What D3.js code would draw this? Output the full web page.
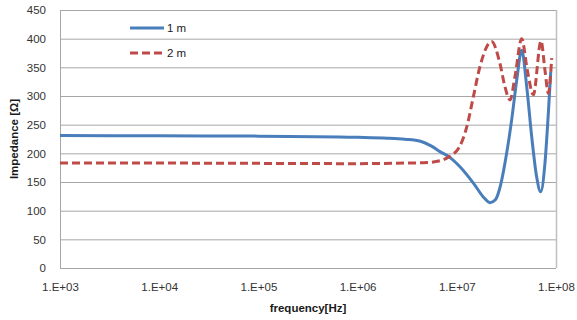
<!DOCTYPE html>
<html>
<head>
<meta charset="utf-8">
<script src="https://cdn.jsdelivr.net/npm/d3@7"></script>
<style>
  body { margin: 0; background: #fff; }
  svg text { font-family: "Liberation Sans", Arial, sans-serif; }
</style>
</head>
<body>
<div id="chart"></div>
<script>
"use strict";

// values
var yTicks = [0, 50, 100, 150, 200, 250, 300, 350, 400, 450];
var xTicks = [1e3, 1e4, 1e5, 1e6, 1e7, 1e8];
var xTickLabels = ["1.E+03", "1.E+04", "1.E+05", "1.E+06", "1.E+07", "1.E+08"];
var seriesNames = ["1 m", "2 m"];

var freq1m = [1e3, 1e4, 1e5, 1e6, 2e6, 3e6, 4.3e6, 5.5e6, 6.77e6, 8.5e6, 1.07e7, 1.47e7, 1.85e7, 2.16e7,
    2.45e7, 2.72e7, 3.18e7, 3.57e7, 4.02e7, 4.51e7, 5.07e7, 5.69e7, 6.38e7, 7.0e7, 7.74e7, 8.37e7, 8.85e7];
var imp1m = [231, 230.5, 230, 228, 226.5, 224.5, 221, 213, 203, 193, 177, 148, 124, 114,
    119, 140, 200, 258, 328, 380, 316, 229, 159, 133, 183, 270, 342];

var freq2m = [1e3, 1e4, 1e5, 1e6, 3e6, 5e6, 6.77e6, 8.5e6, 1.07e7, 1.26e7, 1.47e7, 1.71e7, 2.24e7,
    2.72e7, 3.06e7, 3.44e7, 3.86e7, 4.51e7, 5.14e7, 5.91e7, 7.06e7, 7.74e7, 8.37e7, 9.05e7];
var imp2m = [183, 183, 182.5, 182, 183, 184, 187, 195, 212, 246, 299, 351, 395,
    357, 316, 293, 334, 400, 345, 302, 396, 345, 305, 366];

var width = 577, height = 320;
var margin = { top: 10, right: 21, bottom: 52, left: 60 };
var plotW = width - margin.left - margin.right;
var plotH = height - margin.top - margin.bottom;

var svg = d3.select("#chart").append("svg")
    .attr("width", width)
    .attr("height", height);

var g = svg.append("g")
    .attr("transform", "translate(" + margin.left + "," + margin.top + ")");

var x = d3.scaleLog().domain([1e3, 1e8]).range([0, plotW]);
var y = d3.scaleLinear().domain([0, 450]).range([plotH, 0]);

// horizontal grid
g.append("g").selectAll("line")
    .data(yTicks.filter(function (d) { return d > 0; }))
    .enter().append("line")
    .attr("x1", 0).attr("x2", plotW)
    .attr("y1", function (d) { return y(d) + 0.5; })
    .attr("y2", function (d) { return y(d) + 0.5; })
    .attr("stroke", "#a6a6a6")
    .attr("stroke-width", 1);

// plot border (right + bottom + left)
g.append("line").attr("x1", plotW + 0.5).attr("x2", plotW + 0.5).attr("y1", 0).attr("y2", plotH)
    .attr("stroke", "#bfbfbf").attr("stroke-width", 1.5);
g.append("line").attr("x1", 0).attr("x2", plotW).attr("y1", plotH + 0.5).attr("y2", plotH + 0.5)
    .attr("stroke", "#a6a6a6").attr("stroke-width", 1);
g.append("line").attr("x1", 0.5).attr("x2", 0.5).attr("y1", 0).attr("y2", plotH)
    .attr("stroke", "#a6a6a6").attr("stroke-width", 1);

// y axis labels
var yAxis = d3.axisLeft(y).tickValues(yTicks).tickSize(0).tickPadding(14);
var yG = g.append("g").call(yAxis);
yG.select(".domain").remove();
yG.selectAll("text").attr("font-size", 11.5).attr("fill", "#333")
    .attr("font-family", "Liberation Sans, Arial, sans-serif");

// x axis labels
var xAxis = d3.axisBottom(x).tickValues(xTicks)
    .tickFormat(function (d, i) { return xTickLabels[i]; })
    .tickSize(0).tickPadding(15);
var xG = g.append("g").attr("transform", "translate(0," + plotH + ")").call(xAxis);
xG.select(".domain").remove();
xG.selectAll("text").attr("font-size", 11.5).attr("fill", "#333")
    .attr("font-family", "Liberation Sans, Arial, sans-serif");

// axis titles
svg.append("text")
    .attr("x", margin.left + plotW / 2)
    .attr("y", 312)
    .attr("text-anchor", "middle")
    .attr("font-size", 11.5).attr("font-weight", "bold").attr("fill", "#1a1a1a")
    .text("frequency[Hz]");

svg.append("text")
    .attr("transform", "translate(18," + (margin.top + plotH / 2) + ") rotate(-90)")
    .attr("text-anchor", "middle")
    .attr("font-size", 11.5).attr("font-weight", "bold").attr("fill", "#1a1a1a")
    .text("Impedance  [Ω]");

// lines
var line = d3.line()
    .x(function (d) { return x(d[0]); })
    .y(function (d) { return y(d[1]); })
    .curve(d3.curveMonotoneX);

var data1 = d3.zip(freq1m, imp1m);
var data2 = d3.zip(freq2m, imp2m);

g.append("path").datum(data1)
    .attr("d", line)
    .attr("fill", "none")
    .attr("stroke", "#4a7ebb")
    .attr("stroke-width", 3)
    .attr("stroke-linejoin", "round");

g.append("path").datum(data2)
    .attr("d", line)
    .attr("fill", "none")
    .attr("stroke", "#be4b48")
    .attr("stroke-width", 3)
    .attr("stroke-dasharray", "8,4");

// legend
var legend = svg.append("g");
var legendColors = ["#4a7ebb", "#be4b48"];
var legendDash = [null, "8,4"];
seriesNames.forEach(function (name, i) {
    var ly = 28 + i * 25;
    legend.append("line")
        .attr("x1", 130).attr("x2", 164)
        .attr("y1", ly).attr("y2", ly)
        .attr("stroke", legendColors[i])
        .attr("stroke-width", 3)
        .attr("stroke-dasharray", legendDash[i]);
    legend.append("text")
        .attr("x", 167).attr("y", ly + 4)
        .attr("font-size", 11.5).attr("fill", "#1a1a1a")
        .text(name);
});
</script>
</body>
</html>
